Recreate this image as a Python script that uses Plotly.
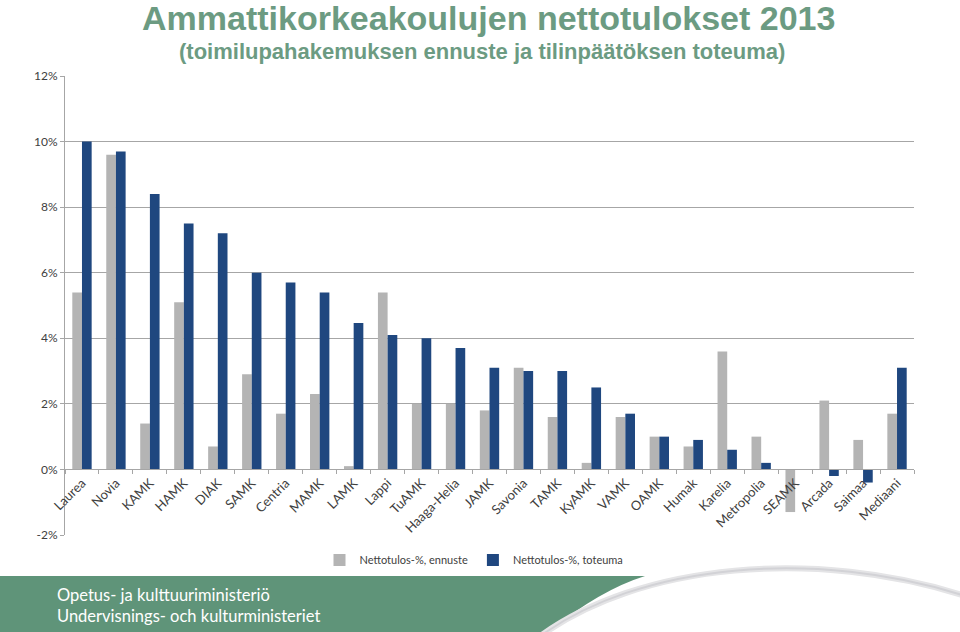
import plotly.graph_objects as go

schools = [
    "Laurea", "Novia", "KAMK", "HAMK", "DIAK", "SAMK", "Centria", "MAMK",
    "LAMK", "Lappi", "TuAMK", "Haaga-Helia", "JAMK", "Savonia", "TAMK",
    "KyAMK", "VAMK", "OAMK", "Humak", "Karelia", "Metropolia", "SEAMK",
    "Arcada", "Saimaa", "Mediaani",
]
ennuste = [5.4, 9.6, 1.4, 5.1, 0.7, 2.9, 1.7, 2.3, 0.1, 5.4, 2.0, 2.0, 1.8,
           3.1, 1.6, 0.2, 1.6, 1.0, 0.7, 3.6, 1.0, -1.3, 2.1, 0.9, 1.7]
toteuma = [10.0, 9.7, 8.4, 7.5, 7.2, 6.0, 5.7, 5.4, 4.47, 4.1, 4.0, 3.7, 3.1,
           3.0, 3.0, 2.5, 1.7, 1.0, 0.9, 0.6, 0.2, 0.0, -0.2, -0.4, 3.1]
y_ticks = [-2, 0, 2, 4, 6, 8, 10, 12]
y_labels = ["-2%", "0%", "2%", "4%", "6%", "8%", "10%", "12%"]

# plot area in pixels (960x632 page)
L, R, T, B = 65, 914, 76, 535
W, H = 960, 632

GREEN = "#5f9479"
TITLE_GREEN = "#6c9b82"
GREY = "#b4b4b4"
BLUE = "#1f477f"
FONT = "Lato, Calibri, sans-serif"
TITLE_FONT = "Liberation Sans Narrow, Arial Narrow, Arial"


def px(x, y):
    # pixel -> paper coordinates
    return (x - L) / (R - L), (B - y) / (B - T)


def P(x, y):
    a, b = px(x, y)
    return f"{a:.4f},{b:.4f}"


fig = go.Figure()
fig.add_trace(go.Bar(x=schools, y=ennuste, name="Nettotulos-%, ennuste",
                     marker=dict(color=GREY, line=dict(width=0))))
fig.add_trace(go.Bar(x=schools, y=toteuma, name="Nettotulos-%, toteuma",
                     marker=dict(color=BLUE, line=dict(width=0))))

# footer band with a curved cut at the right
green_path = (f"M {P(0, 576)} L {P(645, 576)} "
              f"Q {P(600, 590)} {P(548, 632)} L {P(0, 632)} Z")
arc_path = f"M {P(535, 640)} C {P(640, 560)} {P(820, 550)} {P(962, 595)}"

shapes = [
    dict(type="path", xref="paper", yref="paper", path=green_path,
         fillcolor=GREEN, line=dict(width=0), layer="below"),
    dict(type="path", xref="paper", yref="paper", path=arc_path,
         line=dict(color="#e4e4e6", width=6), layer="below"),
    dict(type="path", xref="paper", yref="paper", path=arc_path,
         line=dict(color="#d2d2d6", width=2), layer="below"),
]

annotations = [
    dict(text="Ammattikorkeakoulujen nettotulokset 2013", x=px(488, 0)[0],
         y=px(0, 18)[1], xref="paper", yref="paper", showarrow=False,
         font=dict(family=TITLE_FONT, size=34, color=TITLE_GREEN, weight="bold"),
         xanchor="center", yanchor="middle"),
    dict(text="(toimilupahakemuksen ennuste ja tilinpäätöksen toteuma)",
         x=px(482, 0)[0], y=px(0, 52)[1], xref="paper", yref="paper",
         showarrow=False,
         font=dict(family=TITLE_FONT, size=22, color=TITLE_GREEN, weight="bold"),
         xanchor="center", yanchor="middle"),
    dict(text="Opetus- ja kulttuuriministeriö<br>Undervisnings- och kulturministeriet",
         x=px(55, 0)[0], y=px(0, 605)[1], xref="paper", yref="paper",
         showarrow=False, align="left",
         font=dict(family=FONT, size=16.5, color="white"),
         xanchor="left", yanchor="middle"),
]

fig.update_layout(
    width=W, height=H,
    margin=dict(l=L, r=W - R, t=T, b=H - B),
    paper_bgcolor="white", plot_bgcolor="white",
    barmode="group", bargap=0.43, bargroupgap=0,
    font=dict(family=FONT, size=12, color="#404040"),
    showlegend=True,
    legend=dict(orientation="h", x=px(474, 0)[0], y=px(0, 560)[1],
                xanchor="center", yanchor="middle", font=dict(size=11),
                itemwidth=30, traceorder="normal"),
    shapes=shapes,
    annotations=annotations,
    xaxis=dict(
        anchor="free", position=2 / 14, showline=True, linecolor="#a6a6a6",
        linewidth=1, ticks="outside", tickson="boundaries", ticklen=4,
        tickcolor="#a6a6a6", tickangle=-45, showgrid=False,
        tickfont=dict(size=13, color="#404040"), range=[-0.5, 24.5],
    ),
    yaxis=dict(
        range=[-2, 12], tickvals=y_ticks, ticktext=y_labels, showline=True,
        linecolor="#a6a6a6", linewidth=1, ticks="outside", ticklen=4,
        tickcolor="#a6a6a6", gridcolor="#a6a6a6", gridwidth=1,
        zeroline=False, tickfont=dict(size=12, color="#404040"),
    ),
)

fig.write_html("out.html", config={"displayModeBar": False},
               post_script="document.body.style.margin='0';")
